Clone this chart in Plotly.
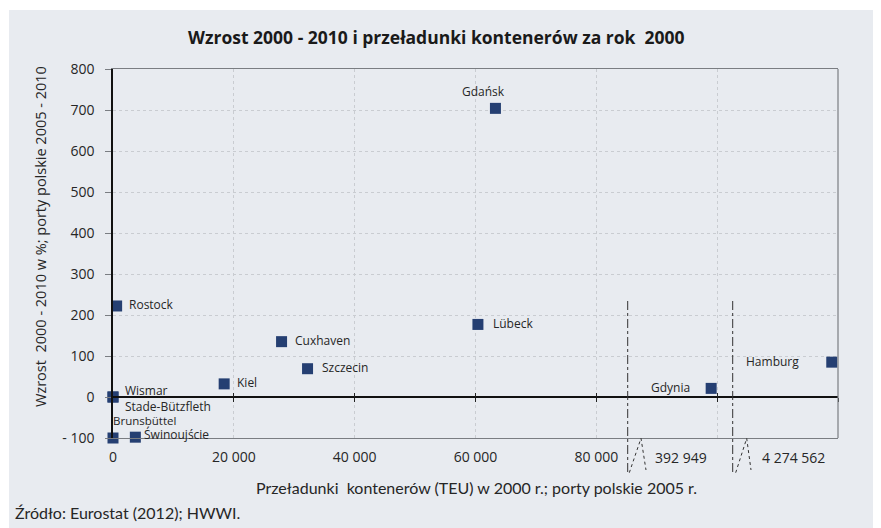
import plotly.graph_objects as go

# ---------------- data ----------------
ports = ["Gdańsk", "Rostock", "Cuxhaven", "Szczecin", "Kiel", "Lübeck", "Wismar",
         "Stade-Bützfleth", "Brunsbüttel", "Świnoujście", "Gdynia", "Hamburg"]
teu = [63300, 600, 27900, 32200, 18400, 60400, 0, 0, 0, 3700, 385000, 4266300]
growth = [704, 222, 135, 69, 32, 177, 0, 0, -100, -98, 21, 85]

x_tick_vals = [0, 20000, 40000, 60000, 80000, 392949, 4274562]
x_tick_text = ["0", "20 000", "40 000", "60 000", "80 000", "392 949", "4 274 562"]
y_tick_vals = [-100, 0, 100, 200, 300, 400, 500, 600, 700, 800]
y_tick_text = ["- 100", "0", "100", "200", "300", "400", "500", "600", "700", "800"]

# broken axis: values beyond the breaks are placed in their own short segments
BREAK1, BREAK2 = 392949, 4274562
SEG = 20000


def axis_pos(v):
    if v <= 90000:
        return v
    if v < 1_000_000:
        return 5 * SEG + (v - BREAK1) / 8
    return 6 * SEG + (v - BREAK2) / 8


xs = [axis_pos(v) for v in teu]
x_tick_pos = [axis_pos(v) for v in x_tick_vals]

# label placement (style)
label_style = {
    "Gdańsk": ("center", -12, 17),
    "Rostock": ("left", 10, 1),
    "Cuxhaven": ("left", 11, 1),
    "Szczecin": ("left", 12, 1),
    "Kiel": ("left", 11, 1),
    "Lübeck": ("left", 13, 1),
    "Wismar": ("left", 10, 7),
    "Stade-Bützfleth": ("left", 10, -9),
    "Brunsbüttel": ("left", -2, 18),
    "Świnoujście": ("left", 7, 3),
    "Gdynia": ("right", -19, 1),
    "Hamburg": ("right", -31, 1),
}
# horizontal shift (px) of tick labels beyond the axis breaks
break_label_shift = {392949: -36, 4274562: -45}

MARKER = "#253F72"
TXT = "#262626"
GRID = "#c9ccd1"
BORDER = "#7a7d82"
PANEL = "#E8EBF0"

fig = go.Figure()
fig.add_trace(go.Scatter(
    x=xs, y=growth, mode="markers",
    marker=dict(symbol="square", size=11, color=MARKER, line=dict(width=0)),
    hoverinfo="text", text=ports, showlegend=False, cliponaxis=False,
))
# invisible helper traces for zero-line tick axes
fig.add_trace(go.Scatter(x=[0], y=[0], xaxis="x2", mode="markers",
                         marker=dict(opacity=0), showlegend=False, hoverinfo="skip"))
fig.add_trace(go.Scatter(x=[0], y=[0], xaxis="x3", mode="markers",
                         marker=dict(opacity=0), showlegend=False, hoverinfo="skip"))

annotations = []
for name, x, y in zip(ports, xs, growth):
    anchor, dx, dy = label_style[name]
    annotations.append(dict(
        x=x, y=y, xref="x", yref="y", text=name, showarrow=False,
        xanchor=anchor, yanchor="middle", xshift=dx, yshift=dy,
        font=dict(family="Open Sans", size=12 if name != "Brunsbüttel" else 11.5, color=TXT),
    ))

# page is offset by the 8px body margin; figure is sized to fill the rest
W_PLOT = 725
H_PLOT = 369


def px(xp):
    return (xp - 113) / W_PLOT


def py(yp):
    return (438 - yp) / H_PLOT


# tick labels beyond the breaks (drawn as annotations, shifted left)
for v, t, p in zip(x_tick_vals, x_tick_text, x_tick_pos):
    if v in break_label_shift:
        annotations.append(dict(
            x=p, y=py(457), xref="x", yref="paper", text=t, showarrow=False,
            xanchor="center", yanchor="middle", xshift=break_label_shift[v],
            font=dict(family="Open Sans", size=14, color=TXT)))
axis_tick_text = ["" if v in break_label_shift else t for v, t in zip(x_tick_vals, x_tick_text)]

annotations += [
    dict(x=px(436), y=py(37), xref="paper", yref="paper", showarrow=False,
         text="<b>Wzrost 2000 - 2010 i przeładunki kontenerów za rok  2000</b>",
         font=dict(family="Open Sans", size=17.5, color="#1a1a1a"),
         xanchor="center", yanchor="middle"),
    dict(x=px(40), y=py(237), xref="paper", yref="paper", showarrow=False,
         text="Wzrost  2000 - 2010 w %; porty polskie 2005 - 2010", textangle=-90,
         font=dict(family="Open Sans", size=14.5, color=TXT),
         xanchor="center", yanchor="middle"),
    dict(x=px(477), y=py(487), xref="paper", yref="paper", showarrow=False,
         text="Przeładunki  kontenerów (TEU) w 2000 r.; porty polskie 2005 r.",
         font=dict(family="Lato", size=16, color=TXT),
         xanchor="center", yanchor="middle"),
    dict(x=px(13), y=py(512), xref="paper", yref="paper", showarrow=False,
         text="Źródło: Eurostat (2012); HWWI.",
         font=dict(family="Lato", size=16, color=TXT),
         xanchor="left", yanchor="middle"),
]

shapes = [
    # background panel
    dict(type="rect", xref="paper", yref="paper", x0=px(9), x1=px(900), y0=py(540), y1=py(10),
         fillcolor=PANEL, line=dict(width=0), layer="below"),
    # right border
    dict(type="line", xref="paper", yref="paper", x0=1, x1=1, y0=0, y1=1,
         line=dict(color=BORDER, width=1.2)),
]
# axis break decorations
for xl, xa, xb, xc in [(627.7, 629.3, 641, 646), (732.7, 735.7, 746.7, 751)]:
    shapes.append(dict(type="line", xref="paper", yref="paper", x0=px(xl), x1=px(xl),
                       y0=py(301), y1=py(472), line=dict(color="#333", width=1, dash="dashdot")))
    shapes.append(dict(type="path", xref="paper", yref="paper",
                       path=f"M {px(xa)} {py(472.7)} L {px(xb)} {py(438.3)} L {px(xc)} {py(470)}",
                       line=dict(color="#333", width=1, dash="dot")))

fig.update_layout(
    width=873, height=520,
    margin=dict(l=105, r=43, t=61, b=90),
    paper_bgcolor="white", plot_bgcolor="rgba(0,0,0,0)",
    annotations=annotations, shapes=shapes,
    xaxis=dict(range=[0, 6 * SEG], tickvals=x_tick_pos, ticktext=axis_tick_text,
               showgrid=True, gridcolor=GRID, griddash="dot", gridwidth=1,
               zeroline=False, showline=True, linecolor=BORDER, linewidth=1.2, mirror=True,
               ticks="", tickfont=dict(family="Open Sans", size=14, color=TXT),
               ticklabelstandoff=6),
    xaxis2=dict(overlaying="x", anchor="free", position=py(397), range=[0, 6 * SEG],
                tickvals=x_tick_pos[1:], ticks="outside", ticklen=4, tickcolor="#222",
                showticklabels=False, showgrid=False, zeroline=False,
                showline=True, linecolor="#111", linewidth=1.5),
    xaxis3=dict(overlaying="x", anchor="free", position=py(397), range=[0, 6 * SEG],
                tickvals=x_tick_pos[1:], ticks="inside", ticklen=4, tickcolor="#222",
                showticklabels=False, showgrid=False, zeroline=False, showline=False),
    yaxis=dict(range=[-100, 800], tickvals=y_tick_vals, ticktext=y_tick_text,
               showgrid=True, gridcolor=GRID, griddash="dot", gridwidth=1,
               zeroline=False, showline=True, linecolor="#111", linewidth=1.5,
               ticks="outside", ticklen=6, tickcolor=BORDER,
               tickfont=dict(family="Open Sans", size=14, color=TXT),
               ticklabelstandoff=8),
)

fig.write_html("out.html")
